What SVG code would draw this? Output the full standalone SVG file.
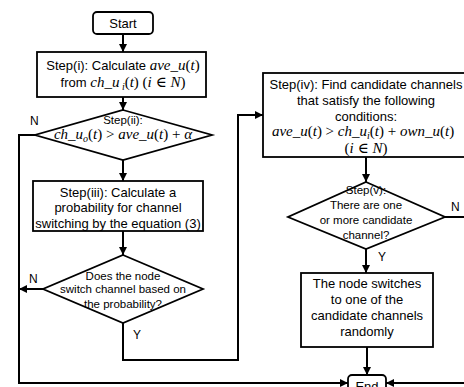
<svg xmlns="http://www.w3.org/2000/svg" width="464" height="387" viewBox="0 0 464 387">
<defs>
<style>
.box{fill:#fff;stroke:#000;stroke-width:1.8}
.t{font-family:"Liberation Sans","Noto Sans",sans-serif;font-size:13px;fill:#000;text-anchor:middle}
.s{font-size:11.5px}
.m{font-family:"Liberation Serif","DejaVu Serif",serif;font-style:italic;font-size:15px}
.n{font-style:normal}
.sub{font-size:10px}
.c{fill:none;stroke:#000;stroke-width:2}
.lbl{font-family:"Liberation Sans","Noto Sans",sans-serif;font-size:12px;fill:#000}
</style>
<marker id="ah" viewBox="0 0 10 10" refX="10" refY="5" markerWidth="4" markerHeight="4" orient="auto" markerUnits="strokeWidth">
<path d="M0,0 L10,5 L0,10 z" fill="#000"/>
</marker>
</defs>
<rect width="464" height="387" fill="#fff"/>
<g id="connectors">
<path class="c" d="M123,34 V52" marker-end="url(#ah)"/>
<path class="c" d="M123,97 V110" marker-end="url(#ah)"/>
<path class="c" d="M35,135 H19 V383 H348" marker-end="url(#ah)"/>
<path class="c" d="M123,160 V181" marker-end="url(#ah)"/>
<path class="c" d="M123,231 V255" marker-end="url(#ah)"/>
<path class="c" d="M43,289 H19" marker-end="url(#ah)"/>
<path class="c" d="M123,323 V360 H238 V115 H263" marker-end="url(#ah)"/>
<path class="c" d="M366,157 V182" marker-end="url(#ah)"/>
<path class="c" d="M445,217 H470 V383 H386" marker-end="url(#ah)"/>
<path class="c" d="M366,249 V273" marker-end="url(#ah)"/>
<path class="c" d="M367,347 V375" marker-end="url(#ah)"/>
<text class="lbl" x="30" y="125">N</text>
<text class="lbl" x="132" y="153">Y</text>
<text class="lbl" x="29" y="283">N</text>
<text class="lbl" x="133" y="339">Y</text>
<text class="lbl" x="451" y="211">N</text>
<text class="lbl" x="378" y="261">Y</text>
</g>
<g id="start">
<rect class="box" x="93" y="12" width="60" height="22" rx="4"/>
<text class="t" x="123" y="28">Start</text>
</g>
<g id="step1">
<rect class="box" x="37" y="52" width="169" height="45"/>
<text class="t" x="123" y="70">Step(i): Calculate <tspan class="m">ave_u</tspan><tspan class="m n">(</tspan><tspan class="m">t</tspan><tspan class="m n">)</tspan></text>
<text class="t" x="123" y="87">from <tspan class="m">ch_u</tspan><tspan class="m sub" baseline-shift="-3"> i</tspan><tspan class="m n">(</tspan><tspan class="m">t</tspan><tspan class="m n">)  (</tspan><tspan class="m">i</tspan><tspan class="m n"> ∈ </tspan><tspan class="m">N</tspan><tspan class="m n">)</tspan></text>
</g>
<g id="step2">
<polygon class="box" points="123,110 212,135 123,160 35,135"/>
<text class="t s" x="123" y="124">Step(ii):</text>
<text class="t" x="123" y="139"><tspan class="m">ch_u</tspan><tspan class="m sub" baseline-shift="-3">o</tspan><tspan class="m n">(</tspan><tspan class="m">t</tspan><tspan class="m n">) &gt; </tspan><tspan class="m">ave_u</tspan><tspan class="m n">(</tspan><tspan class="m">t</tspan><tspan class="m n">) + </tspan><tspan class="m">α</tspan></text>
</g>
<g id="step3">
<rect class="box" x="33" y="181" width="170" height="50"/>
<text class="t" x="118" y="197">Step(iii): Calculate a</text>
<text class="t" x="118" y="212">probability for channel</text>
<text class="t" x="118" y="228">switching by the equation (3)</text>
</g>
<g id="decision">
<polygon class="box" points="123,255 203,289 123,323 43,289"/>
<text class="t s" x="123" y="280">Does the node</text>
<text class="t s" x="123" y="293">switch channel based on</text>
<text class="t s" x="123" y="308">the probability?</text>
</g>
<g id="step4">
<rect class="box" x="263" y="73" width="207" height="84"/>
<text class="t" x="366" y="89">Step(iv): Find candidate channels</text>
<text class="t" x="366" y="105">that satisfy the following</text>
<text class="t" x="366" y="121">conditions:</text>
<text class="t" x="363" y="136"><tspan class="m">ave_u</tspan><tspan class="m n">(</tspan><tspan class="m">t</tspan><tspan class="m n">) &gt; </tspan><tspan class="m">ch_u</tspan><tspan class="m sub" baseline-shift="-3">i</tspan><tspan class="m n">(</tspan><tspan class="m">t</tspan><tspan class="m n">) + </tspan><tspan class="m">own_u</tspan><tspan class="m n">(</tspan><tspan class="m">t</tspan><tspan class="m n">)</tspan></text>
<text class="t" x="366" y="153"><tspan class="m n">(</tspan><tspan class="m">i</tspan><tspan class="m n"> ∈ </tspan><tspan class="m">N</tspan><tspan class="m n">)</tspan></text>
</g>
<g id="step5">
<polygon class="box" points="366,182 445,217 366,249 288,217"/>
<text class="t s" x="366" y="194">Step(v):</text>
<text class="t s" x="366" y="209">There are one</text>
<text class="t s" x="366" y="224">or more candidate</text>
<text class="t s" x="366" y="239">channel?</text>
</g>
<g id="switch">
<rect class="box" x="301" y="273" width="132" height="74"/>
<text class="t" x="367" y="288">The node switches</text>
<text class="t" x="367" y="304">to one of the</text>
<text class="t" x="367" y="320">candidate channels</text>
<text class="t" x="367" y="336">randomly</text>
</g>
<g id="end">
<rect class="box" x="348" y="375" width="38" height="22" rx="4"/>
<text class="t" x="367" y="391">End</text>
</g>
</svg>
